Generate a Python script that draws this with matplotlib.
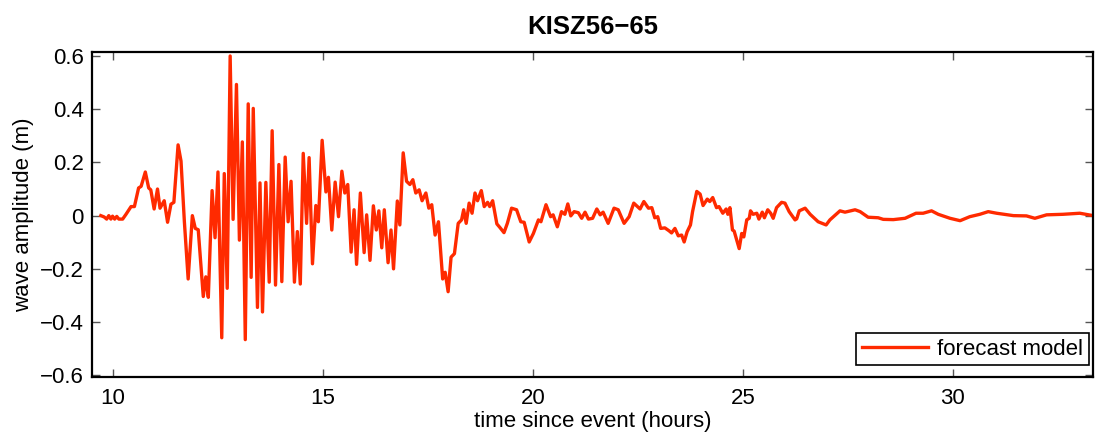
import matplotlib
matplotlib.use("Agg")
import matplotlib.pyplot as plt
from matplotlib.ticker import FuncFormatter

# time since event (hours) and wave amplitude (m)
hours = [9.71, 9.79, 9.85, 9.90, 9.95, 9.99, 10.04, 10.09, 10.14, 10.23,
         10.31, 10.43, 10.51, 10.61, 10.67, 10.77, 10.85, 10.90, 10.98, 11.06,
         11.12, 11.22, 11.30, 11.38, 11.45, 11.55, 11.62, 11.70, 11.79, 11.89,
         11.96, 12.03, 12.15, 12.21, 12.27, 12.36, 12.43, 12.50, 12.59, 12.65,
         12.72, 12.79, 12.86, 12.94, 13.01, 13.08, 13.15, 13.22, 13.29, 13.34,
         13.44, 13.50, 13.56, 13.64, 13.72, 13.79, 13.87, 13.95, 14.02, 14.10,
         14.17, 14.24, 14.32, 14.39, 14.46, 14.53, 14.61, 14.67, 14.75, 14.83,
         14.89, 14.98, 15.07, 15.13, 15.21, 15.29, 15.37, 15.45, 15.52, 15.59,
         15.67, 15.74, 15.80, 15.89, 15.98, 16.04, 16.12, 16.20, 16.27, 16.33,
         16.40, 16.46, 16.55, 16.62, 16.68, 16.77, 16.83, 16.91, 16.99, 17.07,
         17.14, 17.21, 17.29, 17.36, 17.45, 17.52, 17.59, 17.67, 17.75, 17.85,
         17.91, 17.98, 18.05, 18.13, 18.22, 18.30, 18.35, 18.41, 18.48, 18.55,
         18.62, 18.68, 18.77, 18.84, 18.92, 18.97, 19.04, 19.14, 19.21, 19.31,
         19.39, 19.49, 19.61, 19.71, 19.79, 19.91, 20.01, 20.13, 20.19, 20.31,
         20.42, 20.48, 20.58, 20.68, 20.76, 20.83, 20.90, 20.98, 21.08, 21.16,
         21.24, 21.32, 21.42, 21.52, 21.60, 21.67, 21.79, 21.93, 22.03, 22.17,
         22.29, 22.40, 22.55, 22.64, 22.75, 22.83, 22.90, 22.97, 23.04, 23.14,
         23.24, 23.30, 23.38, 23.46, 23.54, 23.60, 23.67, 23.75, 23.80, 23.90,
         23.98, 24.05, 24.15, 24.21, 24.28, 24.37, 24.43, 24.52, 24.60, 24.64,
         24.69, 24.75, 24.79, 24.91, 24.97, 25.02, 25.09, 25.15, 25.18, 25.24,
         25.33, 25.38, 25.46, 25.51, 25.59, 25.66, 25.72, 25.80, 25.92, 26.00,
         26.10, 26.24, 26.28, 26.34, 26.48, 26.60, 26.79, 26.98, 27.07, 27.31,
         27.43, 27.67, 27.79, 27.98, 28.22, 28.34, 28.58, 28.86, 29.12, 29.29,
         29.49, 29.65, 29.93, 30.17, 30.40, 30.64, 30.84, 31.04, 31.44, 31.75,
         31.95, 32.23, 32.62, 33.02, 33.34]
amplitude = [0.0, -0.005, -0.013, 0.0, -0.013, -0.002, -0.013, -0.003, -0.013, -0.013,
             0.005, 0.034, 0.034, 0.104, 0.11, 0.164, 0.104, 0.097, 0.025, 0.10,
             0.028, 0.056, -0.025, 0.043, 0.05, 0.266, 0.205, -0.023, -0.238, 0.0,
             -0.048, -0.053, -0.304, -0.23, -0.307, 0.094, -0.083, 0.164, -0.459, 0.158,
             -0.273, 0.60, -0.014, 0.493, -0.092, 0.277, -0.466, 0.42, -0.232, 0.403,
             -0.345, 0.123, -0.362, 0.125, -0.25, 0.319, -0.261, 0.192, -0.248, 0.22,
             -0.023, 0.129, -0.25, -0.06, -0.257, 0.234, -0.029, 0.218, -0.181, 0.038,
             -0.023, 0.283, 0.089, 0.144, -0.054, 0.126, -0.004, 0.167, 0.085, 0.117,
             -0.137, 0.022, -0.183, 0.085, -0.139, 0.003, -0.168, 0.037, -0.054, 0.018,
             -0.121, 0.022, -0.177, -0.054, -0.20, 0.055, -0.035, 0.236, 0.129, 0.117,
             0.135, 0.085, 0.097, 0.056, 0.085, 0.028, 0.041, -0.073, -0.023, -0.238,
             -0.213, -0.286, -0.156, -0.143, -0.029, -0.016, 0.022, -0.029, 0.047, 0.009,
             0.085, 0.056, 0.094, 0.034, 0.05, 0.034, 0.056, -0.031, -0.044, -0.064,
             -0.029, 0.028, 0.022, -0.023, -0.025, -0.099, -0.067, -0.016, -0.023, 0.041,
             -0.004, 0.003, -0.042, 0.015, 0.005, 0.044, -0.001, 0.015, 0.011, -0.01,
             0.013, -0.013, -0.01, 0.025, 0.003, 0.013, -0.029, 0.028, 0.022, -0.029,
             -0.004, 0.047, 0.025, 0.053, 0.028, 0.03, -0.008, -0.004, -0.048, -0.046,
             -0.057, -0.065, -0.048, -0.076, -0.073, -0.099, -0.061, -0.035, 0.015, 0.091,
             0.081, 0.038, 0.062, 0.053, 0.068, 0.03, 0.034, 0.009, 0.025, 0.005,
             0.03, -0.054, -0.058, -0.124, -0.067, -0.08, -0.016, -0.01, 0.018, 0.005,
             0.009, -0.013, 0.013, -0.008, 0.022, 0.009, -0.01, 0.03, 0.05, 0.047,
             0.015, -0.016, -0.012, 0.018, 0.028, 0.005, -0.023, -0.035, -0.016, 0.018,
             0.013, 0.022, 0.015, -0.006, -0.008, -0.014, -0.015, -0.01, 0.009, 0.009,
             0.018, 0.005, -0.01, -0.019, -0.004, 0.005, 0.015, 0.009, 0.0, -0.001,
             -0.01, 0.003, 0.005, 0.009, 0.0]

xticks = [10, 15, 20, 25, 30]
yticks = [-0.6, -0.4, -0.2, 0, 0.2, 0.4, 0.6]

plt.rcParams['font.family'] = ['Liberation Sans', 'DejaVu Sans']
fs = 16

fig = plt.figure(figsize=(10.95, 4.37), dpi=100)
ax = fig.add_axes([0.084, 0.137, 0.914, 0.744])

ax.plot(hours, amplitude, color='#ff2a00', linewidth=2.4,
        solid_joinstyle='round', label='forecast model')

ax.set_xlim(9.5, 33.33)
ax.set_ylim(-0.607, 0.615)
ax.set_xticks(xticks)
ax.set_yticks(yticks)
ax.yaxis.set_major_formatter(FuncFormatter(lambda v, p: ('%g' % v).replace('-', '\u2212')))

ax.tick_params(direction='in', length=6, width=1, color='#555555',
               top=True, right=True, labelsize=fs)
ax.tick_params(axis='x', pad=8)
ax.tick_params(axis='y', pad=6)
for sp in ax.spines.values():
    sp.set_linewidth(1.6)

ax.set_xlabel('time since event (hours)', fontsize=fs, labelpad=1)
ax.set_ylabel('wave amplitude (m)', fontsize=fs, labelpad=4)
ax.set_title('KISZ56\u221265', fontsize=18.5, fontweight='bold', pad=13)

leg = ax.legend(loc='lower right', bbox_to_anchor=(0.996, 0.037),
                borderaxespad=0, fontsize=fs, fancybox=False,
                edgecolor='black', framealpha=1, handlelength=3.0,
                handletextpad=0.4, borderpad=0.25)
leg.get_frame().set_linewidth(1.2)

fig.savefig('out.png', dpi=100)
